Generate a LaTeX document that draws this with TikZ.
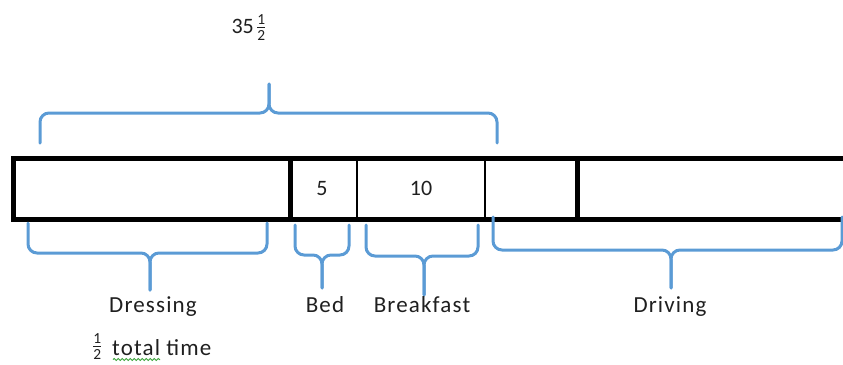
\documentclass[tikz,border=0pt]{standalone}
\usepackage{amsmath}
\usepackage{fontspec}
\setmainfont{Carlito}
\newfontfamily\lblfont{Carlito}[LetterSpace=5]
\usetikzlibrary{decorations.pathmorphing}
\definecolor{braceblue}{HTML}{5B9BD5}
\definecolor{txt}{HTML}{1F1F1F}
\definecolor{squig}{HTML}{3AA33A}
\tikzset{
  brace/.style={draw=braceblue, line width=3pt, rounded corners=9pt, line cap=round},
  thickbar/.style={draw=black, line width=5pt},
  thinbar/.style={draw=black, line width=1.5pt},
  lbl/.style={font=\lblfont\fontsize{23}{27}\selectfont, text=txt, inner sep=0pt, anchor=base},
  num/.style={font=\fontsize{22}{26}\selectfont, text=txt, inner sep=0pt, anchor=base},
}
\begin{document}
\begin{tikzpicture}[x=1pt,y=-1pt]
\useasboundingbox (0,0) rectangle (843,364);
\clip (0,0) rectangle (843,364);
% bar
\coordinate (tl) at (13.5,158.5);
\coordinate (br) at (860,219);
\draw[thickbar] (860,158.5) -- (tl) |- (br);
\draw[thickbar] (290,158.5) -- (290,219);
\draw[thinbar] (357,158.5) -- (357,219);
\draw[thinbar] (485,158.5) -- (485,219);
\draw[thickbar] (577,158.5) -- (577,219);
\node[num] (five) at (322,195) {5};
\node[num] (ten) at (421,195) {10};
% top brace
\coordinate (t1) at (40,143);
\coordinate (t2) at (497,143);
\coordinate (tc) at (269,113);
\coordinate (tt) at (269,84);
\draw[brace] (t1) |- (tc) -- (tt);
\draw[brace] (t2) |- (tc) -- (tt);
\node[num, anchor=base east] (total) at (254,33) {35};
\node[num, anchor=base west] (half) at (256,33) {$\tfrac{\text{1}}{\text{2}}$};
% bottom braces
\coordinate (d1) at (28,223);
\coordinate (d2) at (267,223);
\coordinate (dc) at (150,253);
\coordinate (dt) at (150,290);
\draw[brace] (d1) |- (dc) -- (dt);
\draw[brace] (d2) |- (dc) -- (dt);
\coordinate (b1) at (295,225);
\coordinate (b2) at (349,225);
\coordinate (bc) at (322,255);
\coordinate (bt) at (322,288);
\draw[brace] (b1) |- (bc) -- (bt);
\draw[brace] (b2) |- (bc) -- (bt);
\coordinate (k1) at (366,225);
\coordinate (k2) at (478,225);
\coordinate (kc) at (424,256);
\coordinate (kt) at (424,295);
\draw[brace] (k1) |- (kc) -- (kt);
\draw[brace] (k2) |- (kc) -- (kt);
\coordinate (v1) at (493,217);
\coordinate (v2) at (842,217);
\coordinate (vc) at (671,250);
\coordinate (vt) at (671,288);
\draw[brace] (v1) |- (vc) -- (vt);
\draw[brace] (v2) |- (vc) -- (vt);
% labels
\node[lbl] (dressing) at (153,312) {Dressing};
\node[lbl] (bed) at (325,312) {Bed};
\node[lbl] (breakfast) at (422,312) {Breakfast};
\node[lbl] (driving) at (670,312) {Driving};
\node[num, anchor=base west] (frac) at (92,352) {$\tfrac{\text{1}}{\text{2}}$};
\node[lbl, anchor=base west] (tt2) at (112,355) {total time};
\draw[squig, line width=1pt, decorate, decoration={snake, amplitude=1pt, segment length=4pt}] (113,359.5) -- (160,359.5);
\end{tikzpicture}
\end{document}
